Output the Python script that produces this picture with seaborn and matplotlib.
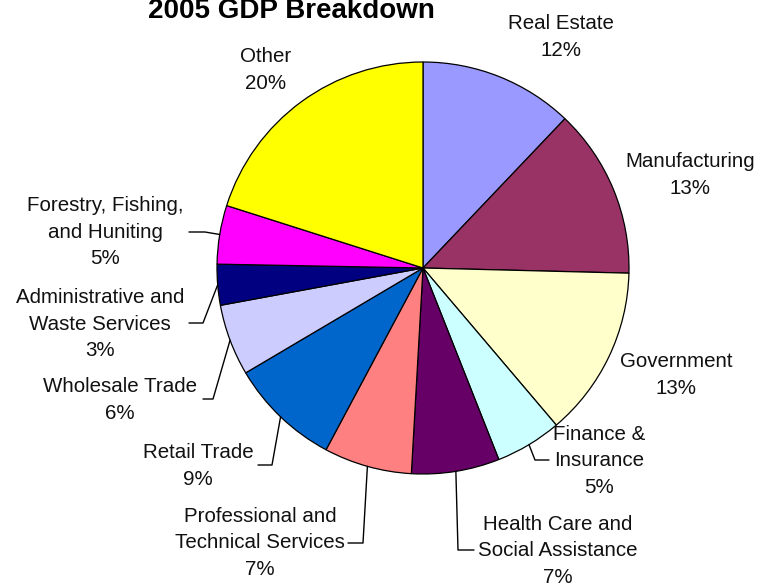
import numpy as np
import matplotlib
matplotlib.use("Agg")
import matplotlib.pyplot as plt
import seaborn as sns

# ----------------------------------------------------------
# data
# ----------------------------------------------------------
sectors = ['Real Estate', 'Manufacturing', 'Government', 'Finance &\nInsurance',
           'Health Care and\nSocial Assistance', 'Professional and\nTechnical Services',
           'Retail Trade', 'Wholesale Trade', 'Administrative and\nWaste Services',
           'Forestry, Fishing,\nand Huniting', 'Other']
shares = [12.1, 13.3, 13.4, 5.2, 6.9, 6.9, 8.7, 5.6, 3.2, 4.6, 20.1]
colors = ['#9999FF', '#993366', '#FFFFCC', '#CCFFFF', '#660066', '#FF8080',
          '#0066CC', '#CCCCFF', '#000080', '#FF00FF', '#FFFF00']

# ----------------------------------------------------------
# layout (pixel coords, y from top)
# ----------------------------------------------------------
W, H = 769, 588
center_px = (423, 268)
radius = 206
label_pos = [(561, 37), (690, 175), (676, 375), (599, 461), (558, 551),
             (260, 543), (198, 466), (120, 400), (100, 324), (105, 232), (266, 70)]
# leader lines: elbow and end point per label, None = no leader
leaders = [None, None, None,
           [(535, 460), (549, 460)],
           [(458, 550), (474, 550)],
           [(363, 543), (348, 543)],
           [(272, 465), (258, 465)],
           [(213, 399), (203, 399)],
           [(203, 323), (189, 323)],
           [(205, 232), (189, 232)],
           None]

sns.set_theme(style="white")
plt.rcParams['font.family'] = ['Liberation Sans', 'DejaVu Sans']

fig = plt.figure(figsize=(W / 100, H / 100), dpi=100)
ax = fig.add_axes([0, 0, 1, 1])

cx, cy = center_px[0], H - center_px[1]
wedges, _ = ax.pie(shares, colors=colors, startangle=90, counterclock=False,
                   center=(cx, cy), radius=radius,
                   wedgeprops=dict(edgecolor='black', linewidth=0.9))

for w, name, val, pos, lead in zip(wedges, sectors, shares, label_pos, leaders):
    ax.text(pos[0], H - pos[1], f"{name}\n{val:.0f}%", ha='center', va='center',
            multialignment='center', fontsize=14.8, color='#111111', linespacing=1.5)
    if lead is not None:
        mid = np.deg2rad((w.theta1 + w.theta2) / 2)
        xs = [cx + radius * np.cos(mid)] + [p[0] for p in lead]
        ys = [cy + radius * np.sin(mid)] + [H - p[1] for p in lead]
        ax.plot(xs, ys, color='black', lw=1)

ax.text(291, H - 18, "2005 GDP Breakdown", ha='center', va='baseline',
        fontsize=20, fontweight='bold', color='black')

ax.set_xlim(0, W)
ax.set_ylim(0, H)
ax.set_aspect('equal')
ax.axis('off')

fig.savefig("out.png", dpi=100, facecolor='white')
